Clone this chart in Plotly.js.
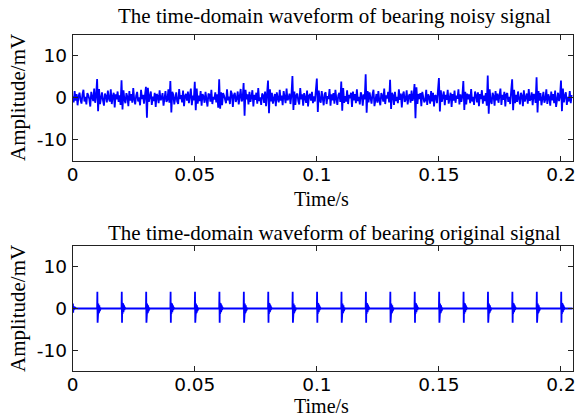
<!DOCTYPE html>
<html>
<head>
<meta charset="utf-8">
<script src="https://cdn.plot.ly/plotly-3.0.1.min.js"></script>
<style>
  html, body { margin: 0; padding: 0; background: #fff; }
  #chart { width: 576px; height: 417px; }
</style>
</head>
<body>
<div id="chart"></div>
<script>
// ---- data ----------------------------------------------------------------
// Noisy bearing signal, one sample every 0.4 ms (each row below spans 10 ms;
// the first value of each row sits on a fault impulse).
const noisyStep = 0.0004;
const noisySignal = [
  0.4,-1.1,1.6,-0.7,0.9,-1.8,0.3,1.2,-0.5,-1.4,0.8,1.9,-0.9,0.2,-1.6,1.1,0.6,-0.3,-2.1,1.4,0.1,-0.8,2.2,-1.2,0.5,
  4.5,-3.2,2.1,-1.5,0.7,1.3,-0.6,-1.9,1.0,0.4,-1.1,1.7,-0.2,-0.9,2.0,-1.5,0.3,1.2,-2.3,0.8,-0.4,1.5,-1.0,0.6,-1.7,
  4.2,-2.8,1.8,-0.5,-1.3,1.1,0.2,-2.0,1.6,-0.7,0.9,-1.2,2.3,-0.4,-1.6,0.5,1.4,-0.9,0.1,-1.8,1.9,-0.3,0.7,-1.4,1.0,
  2.6,-4.8,2.4,-1.0,0.6,1.5,-1.7,0.3,-0.8,1.2,-2.2,0.9,0.4,-1.3,1.8,-0.6,-0.1,1.1,-1.9,0.7,1.6,-1.0,-0.5,2.0,-1.2,
  4.0,-3.5,1.4,0.8,-1.6,0.2,1.3,-0.9,-1.5,2.1,-0.3,0.6,-1.1,1.7,-2.0,0.4,0.9,-0.7,1.5,-1.3,0.0,2.2,-1.8,0.5,-0.6,
  3.8,-3.0,2.2,-1.4,0.5,-0.8,1.6,-1.9,0.9,0.3,-1.2,1.4,-0.5,-2.1,1.0,0.7,-0.9,1.9,-1.5,0.2,-0.4,1.3,-1.1,0.8,-2.4,
  4.4,-2.6,1.3,-1.8,1.1,0.5,-0.7,-1.3,2.0,-0.6,0.3,-1.5,1.7,0.9,-2.2,0.6,1.2,-1.0,-0.2,1.5,-1.6,0.4,2.1,-0.9,-0.3,
  3.5,-4.3,1.9,-0.4,0.8,-1.6,1.4,-1.0,0.2,1.8,-2.1,0.7,-0.5,1.2,-1.4,2.3,-0.8,0.1,-1.7,1.0,0.6,-1.2,1.5,-2.0,0.9,
  4.1,-3.7,2.0,-0.9,1.2,-1.4,0.4,0.9,-2.0,1.3,-0.2,-1.1,1.9,-0.7,0.5,-1.8,1.6,0.3,-1.3,2.2,-0.6,-0.1,1.0,-1.5,0.7,
  5.2,-2.9,1.5,-1.7,0.6,1.0,-0.8,-1.6,2.3,-0.4,0.8,-1.9,1.1,0.2,-1.2,1.7,-2.1,0.5,0.9,-0.7,1.4,-1.3,0.3,-0.9,1.8,
  4.6,-3.4,1.7,-0.6,-1.2,1.6,0.1,-1.8,0.9,1.3,-1.5,0.4,-0.3,2.1,-1.9,0.8,-0.6,1.1,-1.4,1.9,-0.2,-1.7,0.6,1.2,-1.0,
  3.9,-3.1,2.3,-1.2,0.4,-0.9,1.8,-1.5,0.7,-0.1,1.2,-2.2,1.5,-0.6,0.9,-1.3,2.0,-0.8,0.2,-1.6,1.3,0.5,-1.9,0.8,-0.4,
  5.6,-3.6,1.6,-1.1,1.3,-0.5,-1.4,0.8,1.9,-2.0,0.3,0.9,-1.2,1.6,-0.7,-1.8,1.1,0.4,-0.9,2.2,-1.5,0.6,-0.2,1.4,-1.1,
  4.3,-2.7,1.2,0.6,-1.7,1.4,-0.8,0.2,-1.3,2.0,-0.5,1.0,-2.3,0.7,1.5,-1.0,-0.4,1.8,-1.6,0.3,0.9,-1.2,1.7,-0.7,0.1,
  3.3,-4.9,2.5,-1.5,0.9,-0.3,1.1,-2.0,1.4,0.5,-1.1,-0.6,1.9,-1.7,0.8,0.2,-1.4,1.6,-0.9,1.2,-2.1,0.6,0.4,-1.3,1.5,
  4.7,-3.3,1.8,-1.0,0.3,1.5,-1.8,0.7,-0.5,1.9,-1.4,0.1,1.2,-2.2,0.9,-0.7,1.7,-1.2,0.5,-0.2,2.0,-1.6,0.8,-1.0,0.4,
  4.0,-2.9,1.4,-1.6,1.0,-0.4,0.8,-1.3,2.1,-0.9,0.2,-1.7,1.5,0.6,-1.1,1.3,-2.0,0.9,-0.3,1.8,-1.4,0.5,-0.8,1.1,-1.9,
  5.3,-3.8,2.0,-0.8,-1.5,1.2,0.4,-1.9,1.6,-0.6,1.0,-1.2,0.3,2.2,-1.7,0.7,-0.5,1.4,-2.1,0.8,1.1,-1.0,0.2,-1.5,1.7,
  4.4,-3.0,1.9,-1.3,0.7,-1.0,1.5,-0.2,-1.6,1.2,0.5,-2.0,1.8,-0.9,0.3,1.0,-1.4,2.1,-0.7,-0.3,1.3,-1.8,0.9,0.6,-1.2,
  4.9,-3.5,1.6,-0.7,1.1,-1.8,0.6,1.4,-1.2,-0.4,2.0,-1.5,0.8,0.1,-1.9,1.5,-0.6,0.9,-1.3,1.7,-2.2,0.4,1.2,-0.8,0.3,
  4.1,-3.2,2.2,-1.1,0.5,1.3,-1.7,0.2,-0.9,1.6,-1.3,0.7
];

// Clean bearing signal: a decaying ringing at every fault impulse, flat between.
const impulseTimes = [0, 0.01, 0.02, 0.03, 0.04, 0.05, 0.06, 0.07, 0.08, 0.09, 0.10,
                      0.11, 0.12, 0.13, 0.14, 0.15, 0.16, 0.17, 0.18, 0.19, 0.20];
const impulseGain  = [0.3, 1, 1, 1, 1, 1, 1, 1, 1, 1, 1,
                      1, 1, 1, 1, 1, 1, 1, 1, 1, 1];
const ringStep  = 0.0001;
const ringShape = [0, 4.0, -3.4, 1.4, -1.3, 1.2, -1.1, 1.0, -0.9, 0.8, -0.6, 0.5, -0.4, 0.3, -0.2, 0.1, 0];
const signalEnd = 0.2048;

const xTicks = [0, 0.05, 0.1, 0.15, 0.2];
const xTickText = ['0', '0.05', '0.1', '0.15', '0.2'];
const yTicks = [-10, 0, 10];
const yTickText = ['-10', '0', '10'];

const titleTop = 'The time-domain waveform of bearing noisy signal';
const titleBottom = 'The time-domain waveform of bearing original signal';
const xLabel = 'Time/s';
const yLabel = 'Amplitude/mV';

// ---- series ----------------------------------------------------------------
const noisyT = noisySignal.map((_, i) => i * noisyStep);

const cleanT = [], cleanV = [];
impulseTimes.forEach((t0, k) => {
  ringShape.forEach((v, i) => {
    const t = t0 + i * ringStep;
    if (t <= signalEnd) { cleanT.push(t); cleanV.push(v * impulseGain[k]); }
  });
});
cleanT.push(signalEnd); cleanV.push(0);

// ---- layout helpers ------------------------------------------------------
const W = 576, H = 417;
const px = x => x / W;
const py = y => 1 - y / H;

const serif = 'Liberation Serif, Times New Roman, serif';
const sans = 'DejaVu Sans, Arial, sans-serif';

function xAxis(anchor) {
  return {
    anchor: anchor, domain: [px(72.7), px(572.7)], range: [0, signalEnd],
    tickmode: 'array', tickvals: xTicks, ticktext: xTickText,
    ticks: 'inside', ticklen: 5, tickwidth: 1, tickcolor: '#222',
    showline: true, mirror: 'ticks', linecolor: '#222', linewidth: 1,
    showgrid: false, zeroline: false, ticklabeloverflow: 'allow',
    tickfont: { family: sans, size: 18.5, color: '#000' },
    ticklabelstandoff: -3
  };
}
function yAxis(anchor, top, bottom) {
  return {
    anchor: anchor, domain: [py(bottom), py(top)], range: [-15, 15],
    tickmode: 'array', tickvals: yTicks, ticktext: yTickText,
    ticks: 'inside', ticklen: 5, tickwidth: 1, tickcolor: '#222',
    showline: true, mirror: 'ticks', linecolor: '#222', linewidth: 1,
    showgrid: false, zeroline: false,
    tickfont: { family: sans, size: 18.5, color: '#000' },
    ticklabelstandoff: 1
  };
}
function label(text, x, y, angle, size) {
  return {
    text: text, xref: 'paper', yref: 'paper', x: px(x), y: py(y),
    xanchor: 'center', yanchor: 'middle', showarrow: false, textangle: angle || 0,
    font: { family: serif, size: size || 21, color: '#000' }
  };
}

const traces = [
  { x: noisyT, y: noisySignal, xaxis: 'x', yaxis: 'y', type: 'scatter', mode: 'lines',
    line: { color: '#0000ff', width: 1.8 }, hoverinfo: 'skip' },
  { x: cleanT, y: cleanV, xaxis: 'x2', yaxis: 'y2', type: 'scatter', mode: 'lines',
    line: { color: '#0000ff', width: 1.8 }, hoverinfo: 'skip' }
];

const layout = {
  width: W, height: H, margin: { l: 0, r: 0, t: 0, b: 0 },
  paper_bgcolor: '#fff', plot_bgcolor: '#fff', showlegend: false,
  xaxis: xAxis('y'), yaxis: yAxis('x', 35, 160.5),
  xaxis2: xAxis('y2'), yaxis2: yAxis('x2', 246, 371),
  annotations: [
    label(titleTop, 334, 16),
    label(xLabel, 321, 199, 0, 20),
    label(yLabel, 18, 98, -90),
    label(titleBottom, 334, 233),
    label(xLabel, 321, 406, 0, 20),
    label(yLabel, 18, 309, -90)
  ]
};

Plotly.newPlot('chart', traces, layout, { staticPlot: true, displayModeBar: false });
</script>
</body>
</html>
